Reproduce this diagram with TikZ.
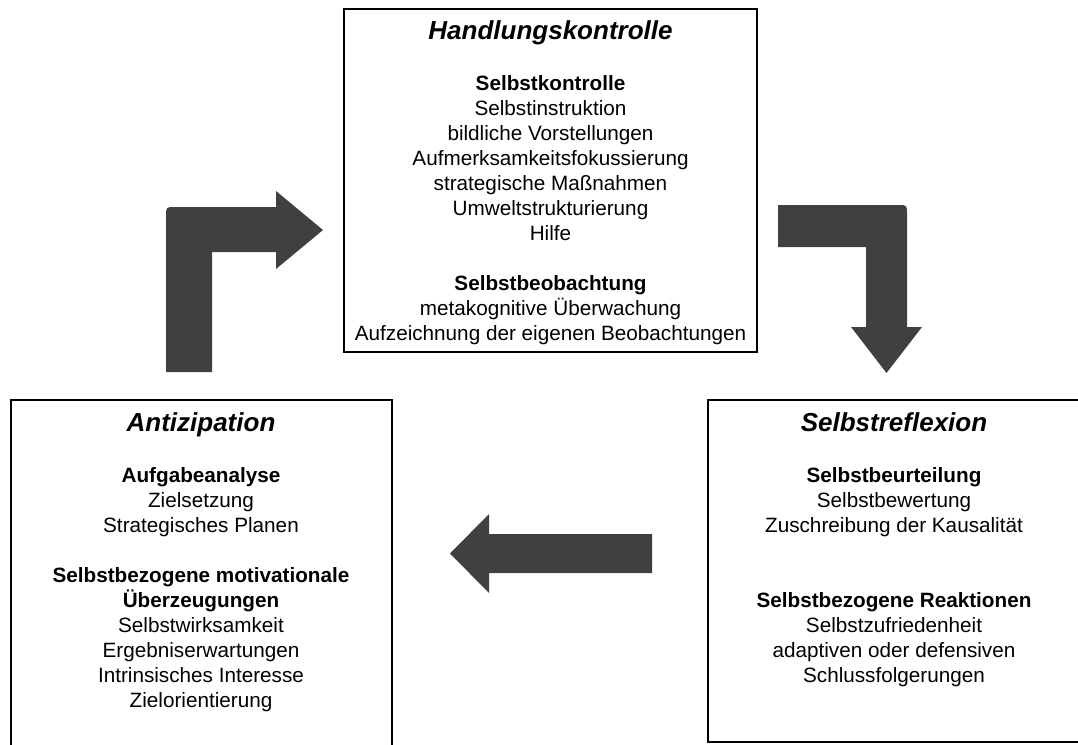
\documentclass[tikz,border=0pt]{standalone}
\usepackage{fontspec}
\setmainfont{Liberation Sans}
\definecolor{arrowgray}{RGB}{64,64,66}
\begin{document}
\begin{tikzpicture}[x=1pt,y=-1pt,
  panel/.style={draw=black,line width=2.4pt,rectangle,inner sep=0pt,outer sep=0pt},
  title/.style={anchor=base,inner sep=0pt,font=\fontsize{26}{30}\selectfont\bfseries\itshape},
  head/.style={anchor=base,inner sep=0pt,font=\fontsize{20.7}{25}\selectfont\bfseries},
  item/.style={anchor=base,inner sep=0pt,font=\fontsize{20.7}{25}\selectfont},
  bigarrow/.style={fill=arrowgray,draw=none}]
\useasboundingbox (0,0) rectangle (1078,744);
\clip (0,0) rectangle (1078,744);

% boxes
\node[panel,minimum width=413pt,minimum height=343pt] (hk) at (550.5,180.5) {};
\node[panel,minimum width=381pt,minimum height=370pt] (an) at (201.5,585) {};
\node[panel,minimum width=390pt,minimum height=342pt] (sr) at (903,571) {};

% Handlungskontrolle
\node[title] (hkt) at (550.5,39) {Handlungskontrolle};
\node[head] (hk1) at (550.5,90) {Selbstkontrolle};
\foreach \t [count=\i] in {Selbstinstruktion,bildliche Vorstellungen,Aufmerksamkeitsfokussierung,strategische Maßnahmen,Umweltstrukturierung,Hilfe}
  \node[item] (hka\i) at (550.5,90+25*\i) {\t};
\node[head] (hk2) at (550.5,290) {Selbstbeobachtung};
\foreach \t [count=\i] in {metakognitive Überwachung,Aufzeichnung der eigenen Beobachtungen}
  \node[item] (hkb\i) at (550.5,290+25*\i) {\t};

% Antizipation
\node[title] (ant) at (201,431) {Antizipation};
\node[head] (an1) at (201,482) {Aufgabeanalyse};
\foreach \t [count=\i] in {Zielsetzung,Strategisches Planen}
  \node[item] (ana\i) at (201,482+25*\i) {\t};
\node[head] (an2) at (201,582) {Selbstbezogene motivationale};
\node[head] (an3) at (201,607) {Überzeugungen};
\foreach \t [count=\i] in {Selbstwirksamkeit,Ergebniserwartungen,Intrinsisches Interesse,Zielorientierung}
  \node[item] (anb\i) at (201,607+25*\i) {\t};

% Selbstreflexion
\node[title] (srt) at (894,431) {Selbstreflexion};
\node[head] (sr1) at (894,482) {Selbstbeurteilung};
\foreach \t [count=\i] in {Selbstbewertung,Zuschreibung der Kausalität}
  \node[item] (sra\i) at (894,482+25*\i) {\t};
\node[head] (sr2) at (894,607) {Selbstbezogene Reaktionen};
\foreach \t [count=\i] in {Selbstzufriedenheit,adaptiven oder defensiven,Schlussfolgerungen}
  \node[item] (srb\i) at (894,607+25*\i) {\t};

% arrows
\fill[bigarrow] (166,372) -- (166,216) .. controls (166,207) .. (175,207)
  -- (276,207) -- (276,191) -- (323,230) -- (276,269) -- (276,252)
  -- (212,252) -- (212,372) -- cycle;
\fill[bigarrow] (778,205) -- (898,205) .. controls (907,205) .. (907,214)
  -- (907,327) -- (922,327) -- (886.5,373) -- (851,327) -- (866,327)
  -- (866,247) -- (778,247) -- cycle;
\fill[bigarrow] (652,534) -- (489,534) -- (489,514) -- (450,553.5)
  -- (489,593) -- (489,573) -- (652,573) -- cycle;
\end{tikzpicture}
\end{document}
